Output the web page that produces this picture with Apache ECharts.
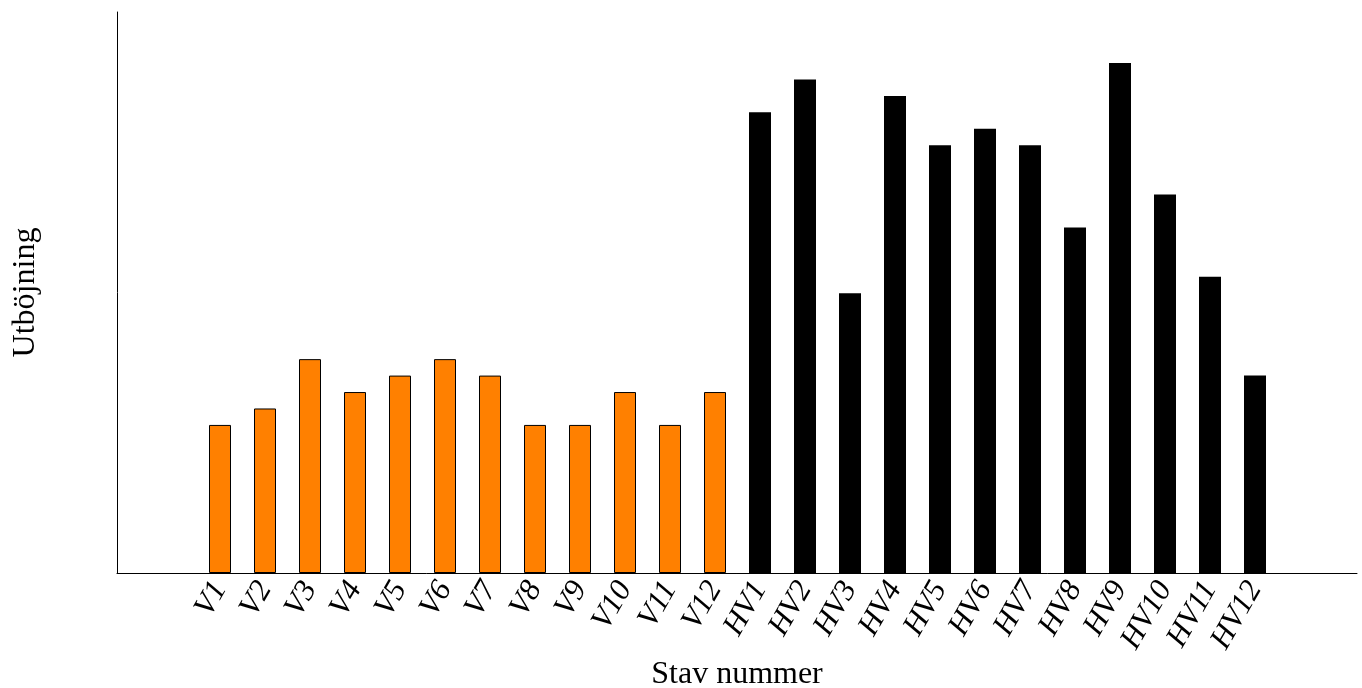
<!DOCTYPE html>
<html>
<head>
<meta charset="utf-8">
<script src="https://cdn.jsdelivr.net/npm/echarts@6/dist/echarts.min.js"></script>
<style>html,body{margin:0;padding:0;background:#fff}#c{width:1362px;height:688px}</style>
</head>
<body>
<div id="c"></div>
<script>
const categories = ['V1','V2','V3','V4','V5','V6','V7','V8','V9','V10','V11','V12',
  'HV1','HV2','HV3','HV4','HV5','HV6','HV7','HV8','HV9','HV10','HV11','HV12'];
const vValues = [9,10,13,11,12,13,12,9,9,11,9,11];
const hvValues = [28,30,17,29,26,27,26,21,31,23,18,12];
const yMax = 34.1;

const FONT = "'Liberation Serif', 'DejaVu Serif', serif";
const chart = echarts.init(document.getElementById('c'));
const data = vValues.map(v => ({value: v, itemStyle: {color: '#ff8000', borderColor: '#000', borderWidth: 1}}))
  .concat(hvValues.map(v => ({value: v, itemStyle: {color: '#000', borderColor: '#000', borderWidth: 0}})));

chart.setOption({
  animation: false,
  grid: [
    {left: 117, top: 12, width: 1240, height: 561, outerBoundsMode: 'none', containLabel: false},
    {left: 197.5, top: 12, width: 1080, height: 561, outerBoundsMode: 'none', containLabel: false}
  ],
  xAxis: [
    {gridIndex: 0, type: 'value', min: 0, max: 1,
     axisLine: {show: true, lineStyle: {color: '#000', width: 1}},
     axisTick: {show: false}, axisLabel: {show: false}, splitLine: {show: false},
     name: 'Stav nummer', nameLocation: 'middle', nameGap: 86,
     nameTextStyle: {fontFamily: FONT, fontSize: 32, color: '#000'}},
    {gridIndex: 1, type: 'category', data: categories,
     axisLine: {show: false}, axisTick: {show: false},
     axisLabel: {interval: 0, rotate: 60, margin: 11, fontFamily: FONT, fontStyle: 'italic', fontSize: 31, color: '#000'}}
  ],
  yAxis: [
    {gridIndex: 0, type: 'value', min: 0, max: yMax,
     axisLine: {show: true, lineStyle: {color: '#000', width: 1}},
     axisTick: {show: false}, axisLabel: {show: false}, splitLine: {show: false},
     name: 'Utböjning', nameLocation: 'middle', nameGap: 75,
     nameTextStyle: {fontFamily: FONT, fontSize: 32, color: '#000'}},
    {gridIndex: 1, type: 'value', min: 0, max: yMax, show: false, splitLine: {show: false}}
  ],
  series: [{
    type: 'bar', xAxisIndex: 1, yAxisIndex: 1, barWidth: 22, data: data
  }]
});
</script>
</body>
</html>
